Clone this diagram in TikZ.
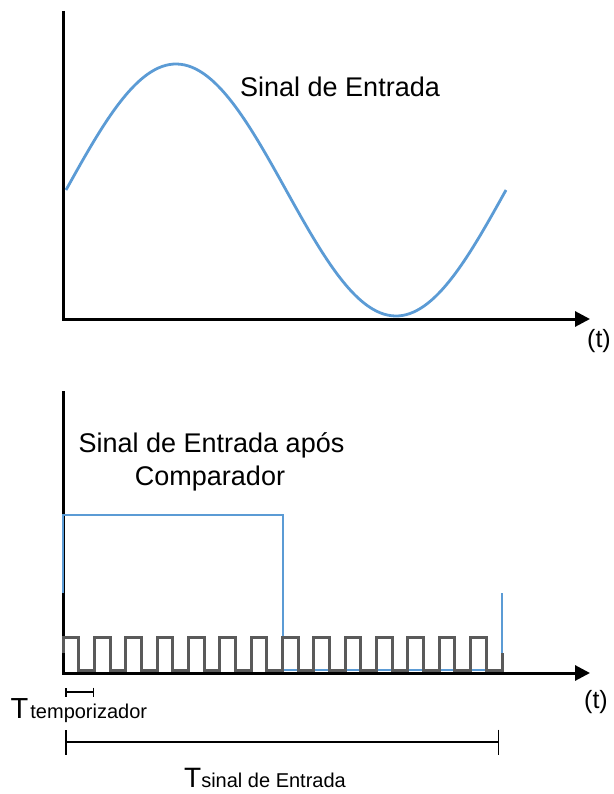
\documentclass[tikz,border=0pt]{standalone}
\usepackage{fontspec}
\setmainfont{Liberation Sans}
\usetikzlibrary{arrows.meta}
\definecolor{sigblue}{HTML}{5B9BD5}
\definecolor{sqgray}{HTML}{5A5A5A}
\tikzset{
  axis/.style={line width=3pt, draw=black, -{Triangle[length=15pt,width=15pt]}},
  sigline/.style={line width=2.8pt, draw=sigblue},
  clkline/.style={line width=3pt, draw=sqgray, line join=miter},
  span/.style={line width=1.5pt, draw=black},
  lbl/.style={inner sep=0pt, font=\fontsize{27}{27}\selectfont},
  tlbl/.style={inner sep=0pt, font=\fontsize{25}{25}\selectfont}
}
\begin{document}
\begin{tikzpicture}[x=1pt, y=-1pt]
\useasboundingbox (0,0) rectangle (613,794);
% ---------- top chart ----------
\coordinate (topY) at (63,11);
\coordinate (topEnd) at (590,319);
\draw[axis] (topY) |- (topEnd);
\draw[sigline] plot[domain=66:506, samples=120, smooth] (\x, {190-126*sin((\x-66)*0.818182)});
\node[lbl, anchor=base west] (sigin) at (240,97) {Sinal de Entrada};
\node[tlbl, anchor=base west] (t1) at (587,347) {(t)};
% ---------- bottom chart ----------
\coordinate (botY) at (63,391);
\coordinate (botEnd) at (590,673);
\draw[axis] (botY) |- (botEnd);
\draw[sigline] (63,592.5) -- (63,515) -- (283,515) -- (283,670) -- (502,670) -- (502,592.5);
\draw[clkline] (63,653) -- (63,637)
  \foreach \k in {0,...,12} {
    -- ({63+\k*31.357+15.679},637) -- ({63+\k*31.357+15.679},670)
    -- ({63+(\k+1)*31.357},670) -- ({63+(\k+1)*31.357},637)
  }
  -- (486.32,637) -- (486.32,670) -- (502,670) -- (502,653);
\node[lbl, anchor=base] (cmp1) at (211.5,452) {Sinal de Entrada após};
\node[lbl, anchor=base] (cmp2) at (210,485) {Comparador};
\node[tlbl, anchor=base west] (t2) at (584,708) {(t)};
% ---------- spans ----------
\coordinate (tmA) at (65,692);
\coordinate (tmB) at (94,692);
\draw[span, {Bar[width=9pt]}-{Bar[width=9pt]}] (tmA) -- (tmB);
\coordinate (tsA) at (65,742);
\coordinate (tsB) at (499,742);
\draw[span, {Bar[width=25pt]}-{Bar[width=25pt]}] (tsA) -- (tsB);
\node[inner sep=0pt, anchor=base west] (ttemp) at (10.5,718)
  {\fontsize{29}{29}\selectfont T\kern2pt\fontsize{20}{20}\selectfont temporizador};
\node[inner sep=0pt, anchor=base west] (tsin) at (184,787)
  {\fontsize{28}{28}\selectfont T\fontsize{20}{20}\selectfont sinal de Entrada};
\end{tikzpicture}
\end{document}
